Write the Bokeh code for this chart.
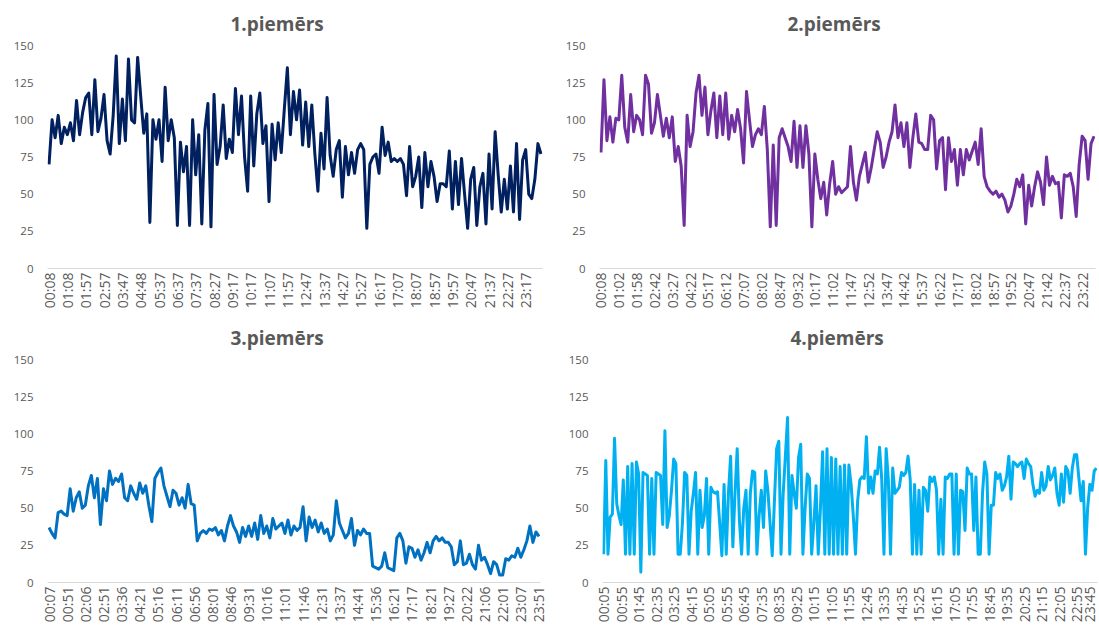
import math
from bokeh.plotting import figure
from bokeh.layouts import row, column
from bokeh.models import Range1d, FixedTicker
from bokeh.embed import file_html
from bokeh.resources import INLINE

titles = ["1.piemērs", "2.piemērs", "3.piemērs", "4.piemērs"]
colors = ["#002060", "#7030A0", "#0070C0", "#00B0F0"]
y_ticks = [0, 25, 50, 75, 100, 125, 150]

# number of data points between two consecutive tick labels, per chart
steps = [6, 6, 6, 8]

labels1 = ["00:08", "01:08", "01:57", "02:57", "03:47", "04:48", "05:37", "06:37", "07:37",
           "08:27", "09:17", "10:17", "11:07", "11:57", "12:47", "13:37", "14:27", "15:27",
           "16:17", "17:07", "18:07", "18:57", "19:57", "20:47", "21:37", "22:27", "23:17"]
values1 = [70, 100, 88, 103, 84, 95,
           90, 98, 86, 113, 90, 105,
           115, 118, 90, 127, 92, 101,
           117, 86, 77, 103, 143, 84,
           114, 86, 141, 100, 98, 142,
           116, 91, 104, 31, 100, 87,
           100, 72, 122, 86, 100, 88,
           29, 85, 65, 82, 29, 100,
           63, 90, 30, 93, 111, 28,
           117, 70, 82, 110, 74, 87,
           78, 121, 90, 116, 75, 52,
           116, 69, 104, 118, 84, 96,
           45, 97, 73, 98, 78, 107,
           135, 90, 119, 100, 120, 83,
           112, 82, 110, 77, 52, 91,
           67, 115, 76, 62, 80, 86,
           48, 82, 63, 78, 64, 80,
           84, 80, 27, 70, 75, 77,
           64, 95, 76, 85, 72, 74,
           72, 74, 70, 49, 82, 55,
           62, 75, 41, 78, 55, 72,
           62, 45, 57, 57, 55, 79,
           40, 72, 43, 74, 50, 27,
           60, 68, 29, 55, 64, 30,
           77, 40, 92, 63, 38, 60,
           40, 69, 38, 84, 33, 73,
           80, 50, 47, 60, 84, 77]

labels2 = ["00:08", "01:02", "01:58", "02:42", "03:27", "04:22", "05:17", "06:12", "07:07",
           "08:02", "08:47", "09:32", "10:17", "11:02", "11:47", "12:52", "13:47", "14:42",
           "15:37", "16:22", "17:17", "18:02", "18:57", "19:52", "20:47", "21:42", "22:37",
           "23:22"]
values2 = [78, 127, 86, 102, 85, 101,
           100, 130, 95, 85, 117, 92,
           103, 100, 90, 130, 124, 91,
           98, 117, 103, 89, 101, 88,
           102, 72, 82, 69, 29, 103,
           82, 92, 118, 130, 103, 122,
           90, 106, 118, 88, 116, 90,
           118, 87, 103, 92, 107, 94,
           71, 119, 100, 82, 90, 94,
           90, 109, 80, 28, 83, 29,
           88, 94, 88, 82, 72, 99,
           68, 96, 68, 96, 77, 28,
           77, 60, 47, 58, 36, 57,
           72, 50, 55, 51, 53, 55,
           82, 58, 46, 62, 70, 78,
           58, 68, 80, 92, 85, 68,
           75, 85, 92, 110, 88, 98,
           82, 98, 68, 88, 104, 85,
           84, 80, 80, 103, 100, 67,
           86, 88, 53, 88, 72, 80,
           56, 80, 63, 80, 73, 79,
           85, 70, 94, 62, 55, 52,
           50, 52, 48, 50, 46, 38,
           42, 50, 60, 55, 63, 30,
           56, 42, 55, 65, 58, 43,
           75, 56, 62, 57, 58, 34,
           63, 62, 64, 55, 35, 70,
           89, 86, 60, 84, 89]

labels3 = ["00:07", "00:51", "02:06", "02:51", "03:36", "04:21", "05:16", "06:11", "06:56",
           "08:01", "08:46", "09:31", "10:16", "11:01", "11:46", "12:31", "13:37", "14:41",
           "15:36", "16:21", "17:17", "18:21", "19:27", "20:22", "21:06", "22:01", "23:07",
           "23:51"]
values3 = [37, 33, 30, 47, 48, 46,
           45, 63, 48, 57, 61, 50,
           52, 65, 72, 57, 70, 39,
           63, 55, 75, 66, 70, 68,
           73, 57, 55, 65, 60, 56,
           67, 60, 65, 52, 41, 70,
           74, 77, 65, 58, 51, 62,
           60, 52, 57, 50, 66, 53,
           52, 28, 33, 35, 33, 36,
           35, 37, 32, 35, 28, 38,
           45, 38, 34, 27, 37, 31,
           38, 31, 40, 29, 45, 33,
           38, 30, 43, 36, 38, 40,
           33, 42, 32, 38, 35, 37,
           51, 28, 44, 37, 42, 34,
           40, 33, 36, 28, 32, 55,
           40, 35, 30, 33, 43, 25,
           35, 32, 36, 33, 33, 11,
           10, 9, 11, 20, 10, 9,
           8, 30, 33, 28, 13, 24,
           23, 17, 22, 15, 20, 27,
           20, 28, 31, 28, 30, 27,
           27, 24, 12, 14, 28, 12,
           13, 19, 12, 9, 25, 15,
           17, 12, 6, 14, 12, 5,
           5, 16, 15, 18, 17, 23,
           17, 22, 28, 38, 27, 34,
           31]

labels4 = ["00:05", "00:55", "01:45", "02:35", "03:25", "04:15", "05:05", "05:55", "06:45",
           "07:35", "08:35", "09:25", "10:15", "11:05", "11:55", "12:45", "13:35", "14:35",
           "15:25", "16:15", "17:05", "17:55", "18:45", "19:35", "20:25", "21:15", "22:05",
           "22:55", "23:45"]
values4 = [19, 82, 19, 44, 46, 97, 53, 45,
           39, 69, 19, 78, 19, 80, 19, 81,
           73, 7, 74, 73, 72, 19, 70, 19,
           74, 73, 72, 39, 102, 37, 45, 62,
           83, 80, 19, 19, 40, 74, 72, 19,
           48, 60, 74, 19, 62, 37, 45, 70,
           19, 64, 61, 60, 61, 40, 18, 66,
           19, 60, 85, 24, 60, 90, 42, 19,
           50, 62, 19, 60, 75, 74, 19, 45,
           62, 37, 75, 62, 40, 18, 55, 90,
           95, 19, 60, 85, 111, 19, 72, 60,
           50, 84, 93, 19, 50, 73, 70, 19,
           40, 65, 19, 50, 88, 19, 90, 19,
           84, 19, 83, 19, 78, 19, 79, 19,
           79, 66, 45, 19, 55, 69, 71, 70,
           98, 60, 71, 60, 75, 73, 91, 69,
           19, 90, 69, 19, 77, 60, 62, 64,
           74, 72, 74, 85, 69, 19, 66, 19,
           62, 19, 64, 62, 48, 71, 68, 71,
           62, 19, 56, 19, 71, 70, 73, 73,
           19, 73, 19, 62, 61, 35, 77, 73,
           73, 35, 71, 19, 19, 60, 81, 73,
           19, 52, 52, 74, 70, 73, 62, 65,
           71, 85, 56, 81, 80, 78, 80, 81,
           70, 83, 80, 78, 66, 58, 62, 60,
           74, 62, 65, 78, 69, 72, 77, 60,
           52, 73, 54, 78, 75, 60, 77, 86,
           86, 70, 55, 68, 19, 50, 66, 62,
           75, 77]

FONT = "Open Sans"
GREY = "#595959"


def make(title, labels, values, step, color, width, height, left, right, top, bottom, title_offset):
    n = len(values)
    p = figure(width=width, height=height, output_backend="svg", toolbar_location=None,
               x_range=Range1d(-0.5, n - 0.5), y_range=Range1d(0, 150),
               min_border_left=left, min_border_right=right,
               min_border_top=top, min_border_bottom=bottom)
    p.title.text = title
    p.title.align = "left"
    p.title.offset = title_offset
    p.title.standoff = 17
    p.title.text_font = FONT
    p.title.text_font_size = "19px"
    p.title.text_font_style = "bold"
    p.title.text_color = GREY

    p.line(list(range(n)), values, line_color=color, line_width=3, line_join="round")

    ticks = [i * step for i in range(len(labels))]
    p.xaxis.ticker = FixedTicker(ticks=ticks)
    p.xaxis.major_label_overrides = {t: lab for t, lab in zip(ticks, labels)}
    p.xaxis.major_label_orientation = math.pi / 2
    p.xaxis.axis_line_color = "#d9d9d9"
    p.xaxis.axis_line_width = 1
    p.xaxis.major_tick_line_color = None
    p.xaxis.minor_tick_line_color = None
    p.xaxis.major_tick_out = 0
    p.xaxis.major_tick_in = 0
    p.xaxis.major_label_standoff = 4
    p.xaxis.major_label_text_font = FONT
    p.xaxis.major_label_text_font_size = "14px"
    p.xaxis.major_label_text_color = GREY

    p.yaxis.ticker = FixedTicker(ticks=y_ticks)
    p.yaxis.axis_line_color = None
    p.yaxis.major_tick_line_color = None
    p.yaxis.minor_tick_line_color = None
    p.yaxis.major_tick_out = 0
    p.yaxis.major_tick_in = 0
    p.yaxis.major_label_standoff = 14
    p.yaxis.major_label_text_font = FONT
    p.yaxis.major_label_text_font_size = "11.5px"
    p.yaxis.major_label_text_color = GREY

    p.xgrid.visible = False
    p.ygrid.visible = False
    p.outline_line_color = None
    p.background_fill_color = "white"
    p.border_fill_color = "white"
    return p


p1 = make(titles[0], labels1, values1, steps[0], colors[0], 550, 312, 47, 8, 45, 44, 183)
p2 = make(titles[1], labels2, values2, steps[1], colors[1], 548, 312, 49, 3, 45, 44, 188)
p3 = make(titles[2], labels3, values3, steps[2], colors[2], 550, 313, 47, 10, 47, 43, 183)
p4 = make(titles[3], labels4, values4, steps[3], colors[3], 548, 313, 52, 1, 47, 43, 188)

layout = column(row(p1, p2), row(p3, p4))

open("out.html", "w").write(file_html(layout, INLINE))
